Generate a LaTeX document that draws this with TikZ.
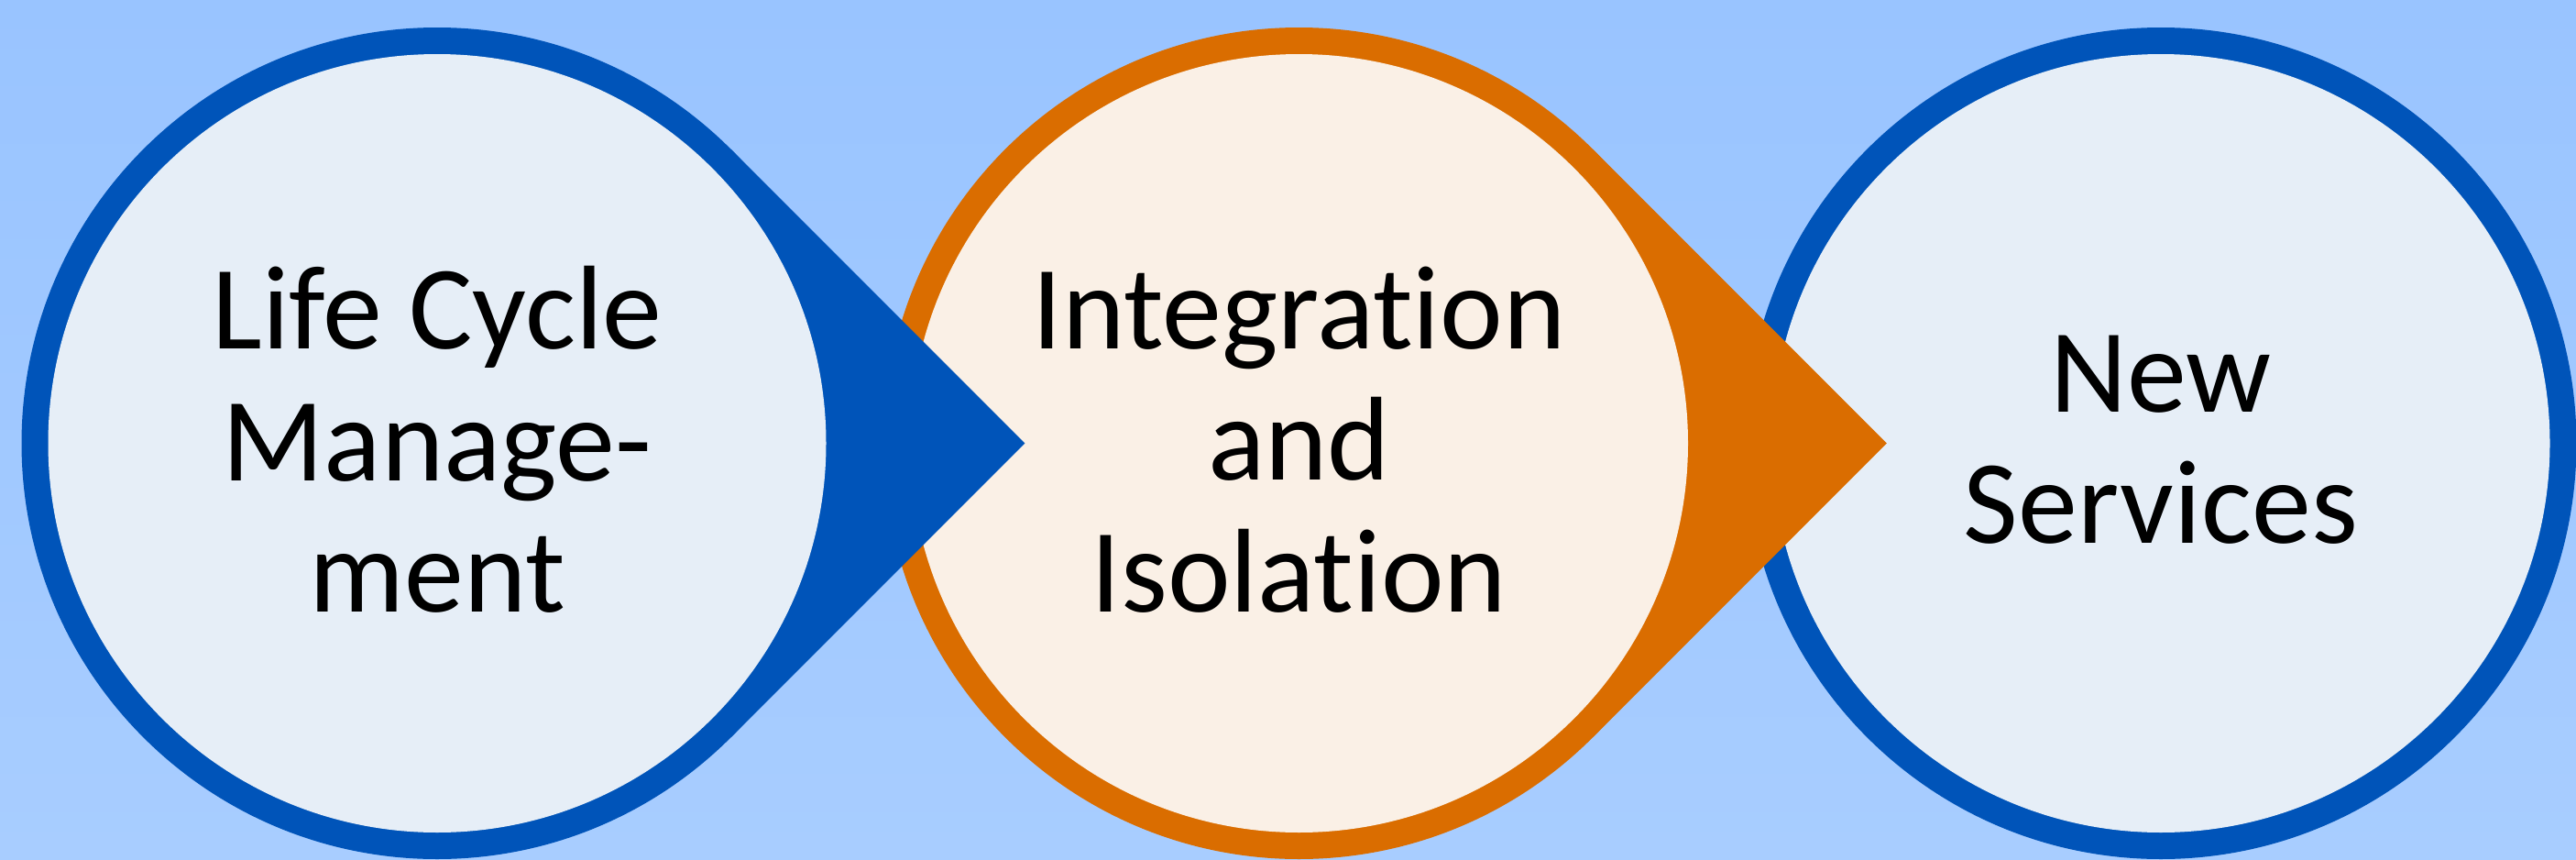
\documentclass[tikz,border=0pt]{standalone}
\usepackage{fontspec}
\setmainfont{Carlito}[Ligatures={NoCommon}]
\definecolor{bgtop}{RGB}{153,196,255}
\definecolor{bgbot}{RGB}{168,205,255}
\definecolor{ringblue}{RGB}{0,84,185}
\definecolor{fillblue}{RGB}{230,238,247}
\definecolor{ringorange}{RGB}{218,109,0}
\definecolor{fillcream}{RGB}{250,240,230}
\tikzset{
  label text/.style={align=center, font=\fontsize{37}{40.8}\selectfont, text=black, inner sep=0pt},
}
\newcommand{\dropshape}[3]{% center, ring colour, fill colour
  \fill[#2] (#1) circle (4.535cm);
  \fill[#2] (#1) -- ++(45:4.535cm) -- ++(-45:4.535cm) -- ++(-135:4.535cm) -- cycle;
  \fill[#3] (#1) circle (4.245cm);
}
\begin{document}
\begin{tikzpicture}
\useasboundingbox (0,0) rectangle (28.11,9.37);
\shade[top color=bgtop, bottom color=bgbot] (0,0) rectangle (28.11,9.37);
\coordinate (c1) at (4.77,4.535);
\coordinate (c2) at (14.175,4.535);
\coordinate (c3) at (23.58,4.535);
% circle 3 (plain)
\fill[ringblue] (c3) circle (4.535cm);
\fill[fillblue] (c3) circle (4.245cm);
% circle 2 (orange drop)
\dropshape{c2}{ringorange}{fillcream}
% circle 1 (blue drop)
\dropshape{c1}{ringblue}{fillblue}
\node[label text] (t1) at ([yshift=0.04cm]c1) {Life Cycle\\Manage-\\ment};
\node[label text] (t2) at ([yshift=0.04cm]c2) {Integration\\and\\Isolation};
\node[label text] (t3) at ([yshift=0.04cm]c3) {New\\Services};
\end{tikzpicture}
\end{document}
